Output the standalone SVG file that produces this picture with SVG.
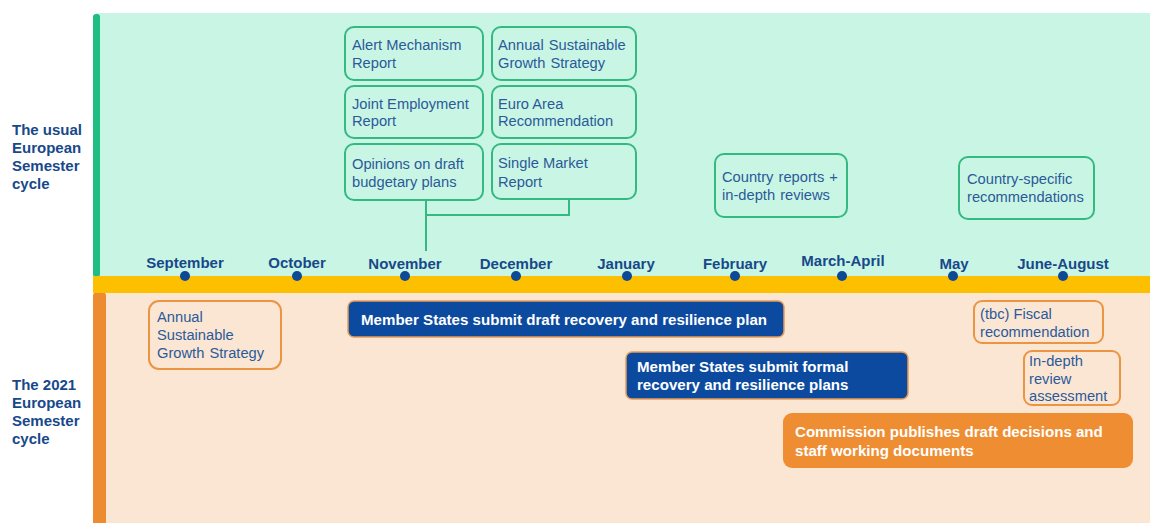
<svg xmlns="http://www.w3.org/2000/svg" width="1150" height="523" viewBox="0 0 1150 523">
<style>
.lbl{font-family:"Liberation Sans",Arial,sans-serif;font-weight:bold;font-size:15px;fill:#17498a}
.mon{font-family:"Liberation Sans",Arial,sans-serif;font-weight:bold;font-size:15px;fill:#17498a;text-anchor:middle}
.t{font-family:"Liberation Sans",Arial,sans-serif;font-size:14.7px;fill:#2b5a98}
.w{font-family:"Liberation Sans",Arial,sans-serif;font-weight:bold;font-size:15.1px;fill:#ffffff}
.gb{fill:none;stroke:#34b981;stroke-width:2}
.ob{fill:none;stroke:#eb9442;stroke-width:2}
.bb{fill:#0b4a9e;stroke:#e79b58;stroke-width:1.5}
.dot{fill:#0d4a95}
</style>
<rect x="0" y="0" width="1150" height="523" fill="#ffffff"/>
<g id="bands">
<rect x="96" y="13" width="1054" height="264" fill="#c9f5e5"/>
<rect x="93" y="14" width="7" height="263" rx="3" fill="#1fbd82"/>
<rect x="100" y="293" width="1050" height="230" fill="#fbe6d4"/>
<rect x="93" y="292" width="13" height="240" rx="4" fill="#ec8b2f"/>
<rect x="93" y="276" width="1057" height="17" fill="#fcc000"/>
</g>
<g id="side-labels">
<text class="lbl" x="12" y="135">The usual</text>
<text class="lbl" x="12" y="153">European</text>
<text class="lbl" x="12" y="171">Semester</text>
<text class="lbl" x="12" y="189">cycle</text>
<text class="lbl" x="12" y="390">The 2021</text>
<text class="lbl" x="12" y="408">European</text>
<text class="lbl" x="12" y="426">Semester</text>
<text class="lbl" x="12" y="444">cycle</text>
</g>
<g id="timeline">
<text class="mon" x="185" y="268">September</text>
<circle class="dot" cx="185" cy="276" r="5"/>
<text class="mon" x="297" y="268">October</text>
<circle class="dot" cx="297" cy="276" r="5"/>
<text class="mon" x="405" y="269">November</text>
<circle class="dot" cx="405" cy="276" r="5"/>
<text class="mon" x="516" y="269">December</text>
<circle class="dot" cx="516" cy="276" r="5"/>
<text class="mon" x="626" y="269">January</text>
<circle class="dot" cx="627" cy="276" r="5"/>
<text class="mon" x="735" y="269">February</text>
<circle class="dot" cx="735" cy="276" r="5"/>
<text class="mon" x="843" y="266">March-April</text>
<circle class="dot" cx="842" cy="276" r="5"/>
<text class="mon" x="954" y="269">May</text>
<circle class="dot" cx="953" cy="276" r="5"/>
<text class="mon" x="1063" y="269">June-August</text>
<circle class="dot" cx="1063" cy="276" r="5"/>
</g>
<g id="connectors">
<path d="M426,200 V251 M426,215 H569 V199" fill="none" stroke="#34b981" stroke-width="2"/>
</g>
<g id="alert-mechanism">
<rect class="gb" x="345" y="27" width="138" height="53" rx="9"/>
<text class="t" x="352" y="50">Alert Mechanism</text>
<text class="t" x="352" y="68">Report</text>
</g>
<g id="asgs-top">
<rect class="gb" x="492" y="27" width="144" height="53" rx="9"/>
<text class="t" x="498" y="50" word-spacing="1">Annual Sustainable</text>
<text class="t" x="498" y="68" word-spacing="1">Growth Strategy</text>
</g>
<g id="joint-employment">
<rect class="gb" x="345" y="86" width="138" height="52" rx="9"/>
<text class="t" x="352" y="109">Joint Employment</text>
<text class="t" x="352" y="126">Report</text>
</g>
<g id="euro-area">
<rect class="gb" x="492" y="86" width="144" height="52" rx="9"/>
<text class="t" x="498" y="109">Euro Area</text>
<text class="t" x="498" y="126">Recommendation</text>
</g>
<g id="opinions">
<rect class="gb" x="345" y="144" width="138" height="56" rx="9"/>
<text class="t" x="352" y="169">Opinions on draft</text>
<text class="t" x="352" y="187">budgetary plans</text>
</g>
<g id="single-market">
<rect class="gb" x="492" y="144" width="144" height="55" rx="9"/>
<text class="t" x="498" y="168">Single Market</text>
<text class="t" x="498" y="187">Report</text>
</g>
<g id="country-reports">
<rect class="gb" x="715" y="154" width="132" height="63" rx="9"/>
<text class="t" x="722" y="182" word-spacing="1">Country reports +</text>
<text class="t" x="722" y="200" word-spacing="1">in-depth reviews</text>
</g>
<g id="csr">
<rect class="gb" x="959" y="157" width="135" height="62" rx="9"/>
<text class="t" x="967" y="184">Country-specific</text>
<text class="t" x="967" y="202">recommendations</text>
</g>
<g id="asgs-2021">
<rect class="ob" x="149" y="301" width="132" height="68" rx="10"/>
<text class="t" x="157" y="322">Annual</text>
<text class="t" x="157" y="340">Sustainable</text>
<text class="t" x="157" y="358" word-spacing="1">Growth Strategy</text>
</g>
<g id="draft-plan">
<rect class="bb" x="348" y="301" width="436" height="36" rx="6"/>
<text class="w" x="361" y="325">Member States submit draft recovery and resilience plan</text>
</g>
<g id="formal-plans">
<rect class="bb" x="626" y="352" width="282" height="47" rx="6"/>
<text class="w" x="637" y="372">Member States submit formal</text>
<text class="w" x="637" y="390">recovery and resilience plans</text>
</g>
<g id="fiscal">
<rect class="ob" x="974" y="301" width="129" height="42" rx="8"/>
<text class="t" x="980" y="319">(tbc) Fiscal</text>
<text class="t" x="980" y="337">recommendation</text>
</g>
<g id="in-depth">
<rect class="ob" x="1024" y="351" width="96" height="54" rx="8"/>
<text class="t" x="1029" y="366">In-depth</text>
<text class="t" x="1029" y="384">review</text>
<text class="t" x="1029" y="401">assessment</text>
</g>
<g id="commission">
<rect x="783" y="413" width="350" height="55" rx="9" fill="#ef8d32"/>
<text class="w" x="795" y="437">Commission publishes draft decisions and</text>
<text class="w" x="795" y="456">staff working documents</text>
</g>
</svg>
